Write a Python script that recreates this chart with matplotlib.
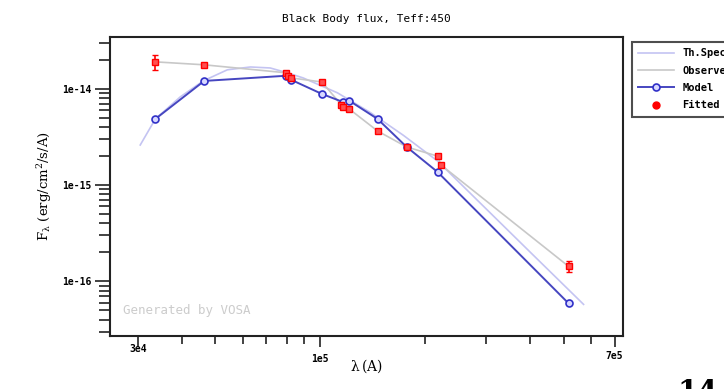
import numpy as np
from matplotlib import pyplot as plt
from matplotlib.ticker import LogLocator, NullFormatter, FixedLocator

# theoretical spectrum (Th.Spec)
th_wave = [3.04e4, 3.36e4, 3.96e4, 4.61e4, 5.41e4, 6.30e4, 7.18e4, 8.04e4, 8.93e4,
           1.12e5, 1.39e5, 1.73e5, 2.17e5, 2.88e5, 4.01e5, 5.70e5]
th_flux = [2.61e-15, 4.87e-15, 8.25e-15, 1.21e-14, 1.58e-14, 1.69e-14, 1.65e-14, 1.47e-14, 1.30e-14,
           9.1e-15, 5.7e-15, 3.3e-15, 1.78e-15, 6.49e-16, 2.00e-16, 5.75e-17]

# model at filter positions
mod_wave = [3.36e4, 4.64e4, 7.98e4, 8.26e4, 1.01e5, 1.16e5, 1.21e5, 1.46e5, 1.77e5, 2.17e5, 5.16e5]
mod_flux = [4.87e-15, 1.21e-14, 1.37e-14, 1.24e-14, 8.87e-15, 7.32e-15, 7.55e-15, 4.87e-15,
            2.49e-15, 1.37e-15, 5.9e-17]

# observed / fitted photometry
obs_wave = [3.36e4, 4.64e4, 7.98e4, 8.1e4, 8.26e4, 1.01e5, 1.15e5, 1.16e5, 1.21e5,
            1.46e5, 1.77e5, 2.17e5, 2.22e5, 5.16e5]
obs_flux = [1.91e-14, 1.78e-14, 1.47e-14, 1.37e-14, 1.30e-14, 1.18e-14, 6.8e-15, 6.49e-15, 6.19e-15,
            3.65e-15, 2.49e-15, 2.0e-15, 1.62e-15, 1.43e-16]
obs_err = [3.5e-15, 8e-16, 6e-16, 5e-16, 5e-16, 5e-16, 3e-16, 3e-16, 3e-16,
           2e-16, 1e-16, 1e-16, 8e-17, 1.9e-17]

mono = 'DejaVu Sans Mono'

fg = plt.figure(figsize=(7.24, 3.89), dpi=100)
ax = fg.add_axes([0.152, 0.136, 0.708, 0.769])

ax.plot(th_wave, th_flux, color='#c4c4f2', lw=1.2, label='Th.Spec.', zorder=2)
ax.plot(obs_wave, obs_flux, color='#c8c8c8', lw=1.2, label='Observed', zorder=2)
ax.plot(mod_wave, mod_flux, color='#4646c0', lw=1.4, marker='o', ms=5, mfc='#d8d8ff',
        mec='#3030c8', mew=1.2, label='Model', zorder=3)
ax.errorbar(obs_wave, obs_flux, yerr=obs_err, fmt='s', ms=4.5, color='red', mfc='#ff5050',
            mec='red', ecolor='red', elinewidth=1.2, capsize=2.5, zorder=4)
ax.plot([], [], 'o', color='red', ms=5, label='Fitted')

ax.set_xscale('log')
ax.set_yscale('log')
ax.set_xlim(2.49e4, 7.38e5)
ax.set_ylim(10**-16.57, 10**-13.46)

ax.xaxis.set_major_locator(FixedLocator([3e4, 1e5, 7e5]))
ax.set_xticklabels(['3e4', '1e5', '7e5'], fontfamily=mono, fontsize=7, fontweight='bold')
ax.xaxis.set_minor_locator(FixedLocator([4e4, 5e4, 6e4, 7e4, 8e4, 9e4, 2e5, 3e5, 4e5, 5e5, 6e5]))
ax.xaxis.set_minor_formatter(NullFormatter())

ax.yaxis.set_major_locator(FixedLocator([1e-16, 1e-15, 1e-14]))
ax.set_yticklabels(['1e-16', '1e-15', '1e-14'], fontfamily=mono, fontsize=7, fontweight='bold')
ax.yaxis.set_minor_locator(LogLocator(base=10, subs=np.arange(2, 10), numticks=20))
ax.yaxis.set_minor_formatter(NullFormatter())

ax.tick_params(axis='both', which='both', direction='out', color='#222222', width=1.2)
ax.tick_params(axis='x', which='major', length=8)
ax.tick_params(axis='x', which='minor', length=6)
ax.tick_params(axis='y', which='major', length=11, pad=2)
ax.tick_params(axis='y', which='minor', length=8)
ticks = ax.xaxis.get_major_ticks()
ticks[0].set_pad(-2)
ticks[1].set_pad(5)
ticks[2].set_pad(3)
for sp in ax.spines.values():
    sp.set_linewidth(1.5)
    sp.set_color('#222222')

ax.set_title('Black Body flux, Teff:450', fontfamily=mono, fontsize=8, pad=11)
ax.set_xlabel(r'$\mathregular{\lambda\,(A)}$', fontfamily='DejaVu Serif', fontsize=10, labelpad=-5)
ax.set_ylabel(r'$\mathregular{F_{\lambda}\ (erg/cm^{2}/s/A)}$', fontfamily='DejaVu Serif',
              fontsize=9.5, labelpad=6)
ax.text(0.025, 0.075, 'Generated by VOSA', transform=ax.transAxes, fontfamily=mono,
        fontsize=9, color='#cccccc')

leg = fg.legend(loc='upper left', bbox_to_anchor=(0.866, 0.905), frameon=True, fancybox=False,
                prop={'family': mono, 'size': 7.5, 'weight': 'bold'}, handlelength=3.4,
                borderpad=0.6, labelspacing=0.7, handletextpad=0.8)
leg.get_frame().set_edgecolor('#222222')
leg.get_frame().set_linewidth(1.5)

fg.text(0.935, -0.03, '14', fontsize=21, family='DejaVu Serif', fontweight='bold', va='baseline')

fg.savefig('out.png', dpi=100)
